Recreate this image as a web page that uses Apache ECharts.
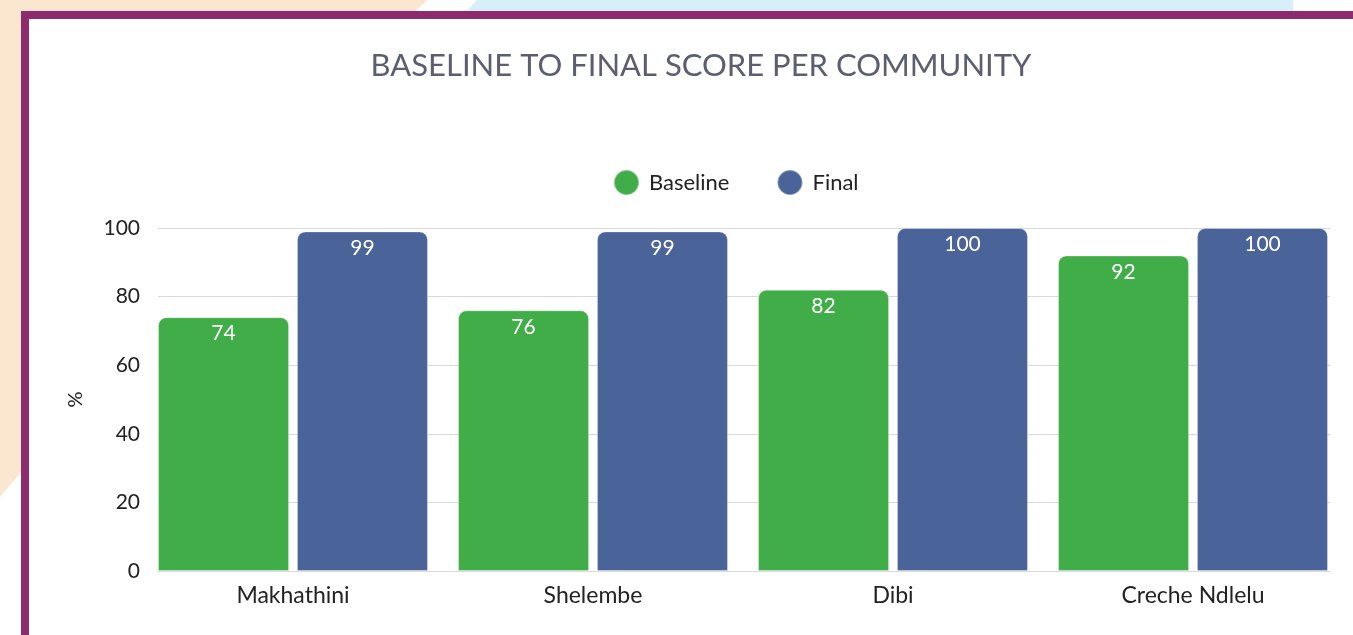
<!DOCTYPE html>
<html><head><meta charset="utf-8">
<script src="https://cdn.jsdelivr.net/npm/echarts@6/dist/echarts.min.js"></script>
<style>html,body{margin:0;padding:0;background:#fff}#c{width:1353px;height:635px}</style>
</head><body><div id="c"></div>
<script>
const title = 'BASELINE TO FINAL SCORE PER COMMUNITY';
const categories = ['Makhathini', 'Shelembe', 'Dibi', 'Creche Ndlelu'];
const baseline = [74, 76, 82, 92];
const finalScore = [99, 99, 100, 100];
const yTicks = [0, 20, 40, 60, 80, 100];
const seriesNames = ['Baseline', 'Final'];

const FONT = 'Lato';
const chart = echarts.init(document.getElementById('c'), null, {renderer: 'canvas'});
const labelCfg = {show: true, position: 'insideTop', distance: 6, color: '#fff', fontFamily: FONT, fontSize: 21};
chart.setOption({
  backgroundColor: '#fff',
  animation: false,
  graphic: [
    {type: 'polygon', z: -10, silent: true, shape: {points: [[0,0],[428,0],[415,11],[21,11],[21,472],[0,497]]}, style: {fill: '#FBE6CF'}},
    {type: 'polygon', z: -10, silent: true, shape: {points: [[477,0],[1293,0],[1293,11],[467,11]]}, style: {fill: '#D6EFF9'}},
    {type: 'rect', z: -5, silent: true, shape: {x: 21, y: 11, width: 1332, height: 8}, style: {fill: '#8E2A6E'}},
    {type: 'rect', z: -5, silent: true, shape: {x: 21, y: 11, width: 8, height: 624}, style: {fill: '#8E2A6E'}}
  ],
  title: {
    text: title, left: 696, top: 45, textAlign: 'center',
    textStyle: {fontFamily: FONT, fontSize: 31, fontWeight: 'normal', color: '#5B5D70'}
  },
  legend: {
    data: seriesNames, left: 608, top: 164, icon: 'circle', itemWidth: 25, itemHeight: 25, itemGap: 47,
    textStyle: {fontFamily: FONT, fontSize: 22, color: '#222', padding: [0, 0, 0, 5]}
  },
  grid: [
    {left: 143, width: 1200, top: 228, bottom: 64},
    {left: 158, right: 23, top: 228, bottom: 64}
  ],
  xAxis: [
    {type: 'category', gridIndex: 0, data: categories, axisLine: {show: false}, axisTick: {show: false},
     axisLabel: {fontFamily: FONT, fontSize: 23, color: '#222', margin: 13}},
    {type: 'value', gridIndex: 1, min: 0, max: 1, axisLine: {show: true, lineStyle: {color: '#D9D9D9', width: 1}},
     axisTick: {show: false}, axisLabel: {show: false}, splitLine: {show: false}}
  ],
  yAxis: [
    {type: 'value', gridIndex: 0, min: 0, max: 100, interval: 20, show: false, splitLine: {show: false}},
    {type: 'value', gridIndex: 1, min: yTicks[0], max: yTicks[yTicks.length - 1], interval: 20,
     name: '%', nameLocation: 'middle', nameGap: 72, nameRotate: 90,
     nameTextStyle: {fontFamily: FONT, fontSize: 20, color: '#222'},
     axisLine: {show: false}, axisTick: {show: false},
     axisLabel: {fontFamily: FONT, fontSize: 21, color: '#222', margin: 18},
     splitLine: {lineStyle: {color: '#D9D9D9', width: 1}}}
  ],
  series: [
    {name: seriesNames[0], type: 'bar', xAxisIndex: 0, yAxisIndex: 0, data: baseline, barGap: '6%', barCategoryGap: '10%',
     itemStyle: {color: '#41AD49', borderRadius: [8, 8, 0, 0], borderColor: 'rgba(255,255,255,0.35)', borderWidth: 1}, label: labelCfg},
    {name: seriesNames[1], type: 'bar', xAxisIndex: 0, yAxisIndex: 0, data: finalScore, barGap: '6%', barCategoryGap: '10%',
     itemStyle: {color: '#4A6399', borderRadius: [8, 8, 0, 0], borderColor: 'rgba(255,255,255,0.35)', borderWidth: 1}, label: labelCfg}
  ]
});
</script></body></html>
